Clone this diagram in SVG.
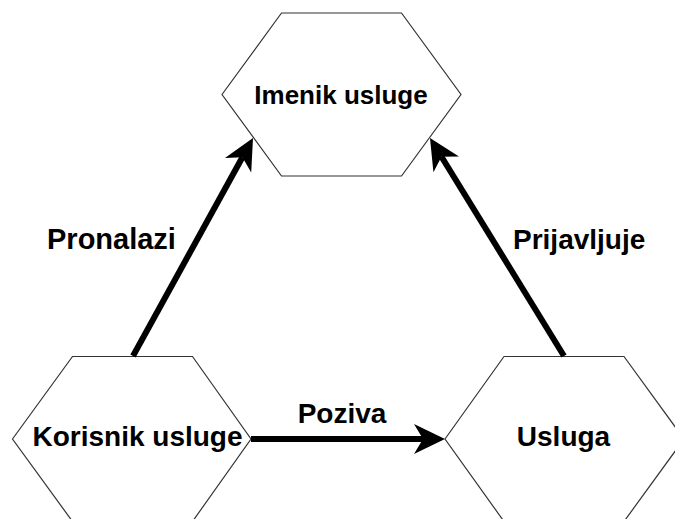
<svg xmlns="http://www.w3.org/2000/svg" width="675" height="519" viewBox="0 0 675 519">
  <style>
    .hex { fill: #ffffff; stroke: #333333; stroke-width: 1.2; }
    .lbl { font-family: "Liberation Sans", Arial, sans-serif; font-weight: bold; fill: #000000; }
    .edge { fill: none; stroke: #000000; stroke-width: 6; }
  </style>
  <defs>
    <marker id="arrow" markerUnits="userSpaceOnUse" markerWidth="40" markerHeight="40" orient="auto" overflow="visible" refX="0" refY="0">
      <path d="M22,0 L-9,-15 L0,0 L-9,15 Z" fill="#000000" stroke="none"/>
    </marker>
  </defs>
  <rect x="0" y="0" width="675" height="519" fill="#ffffff"/>

  <g id="node-imenik">
    <polygon class="hex" points="222,94.5 281.5,13 401.5,13 461,94.5 401.5,176 281.5,176"/>
    <text class="lbl" x="341" y="104" font-size="26" text-anchor="middle">Imenik usluge</text>
  </g>

  <g id="node-korisnik">
    <polygon class="hex" points="12.5,439 72.5,356.5 192.5,356.5 251,439 192.5,521.5 72.5,521.5"/>
    <text class="lbl" x="137.5" y="445.5" font-size="28" text-anchor="middle">Korisnik usluge</text>
  </g>

  <g id="node-usluga">
    <polygon class="hex" points="445,439 504,356.5 624,356.5 684,439 624,521.5 504,521.5"/>
    <text class="lbl" x="563.5" y="445.5" font-size="28" text-anchor="middle">Usluga</text>
  </g>

  <g id="connectors">
    <g id="edge-pronalazi">
      <path class="edge" d="M133,356 L242.4,157.3" marker-end="url(#arrow)"/>
      <text class="lbl" x="47" y="249" font-size="29">Pronalazi</text>
    </g>
    <g id="edge-prijavljuje">
      <path class="edge" d="M564,356 L441.5,156.7" marker-end="url(#arrow)"/>
      <text class="lbl" x="513" y="249" font-size="28">Prijavljuje</text>
    </g>
    <g id="edge-poziva">
      <path class="edge" d="M251,439 L423,439" marker-end="url(#arrow)"/>
      <text class="lbl" x="342" y="423" font-size="28" text-anchor="middle">Poziva</text>
    </g>
  </g>
</svg>
